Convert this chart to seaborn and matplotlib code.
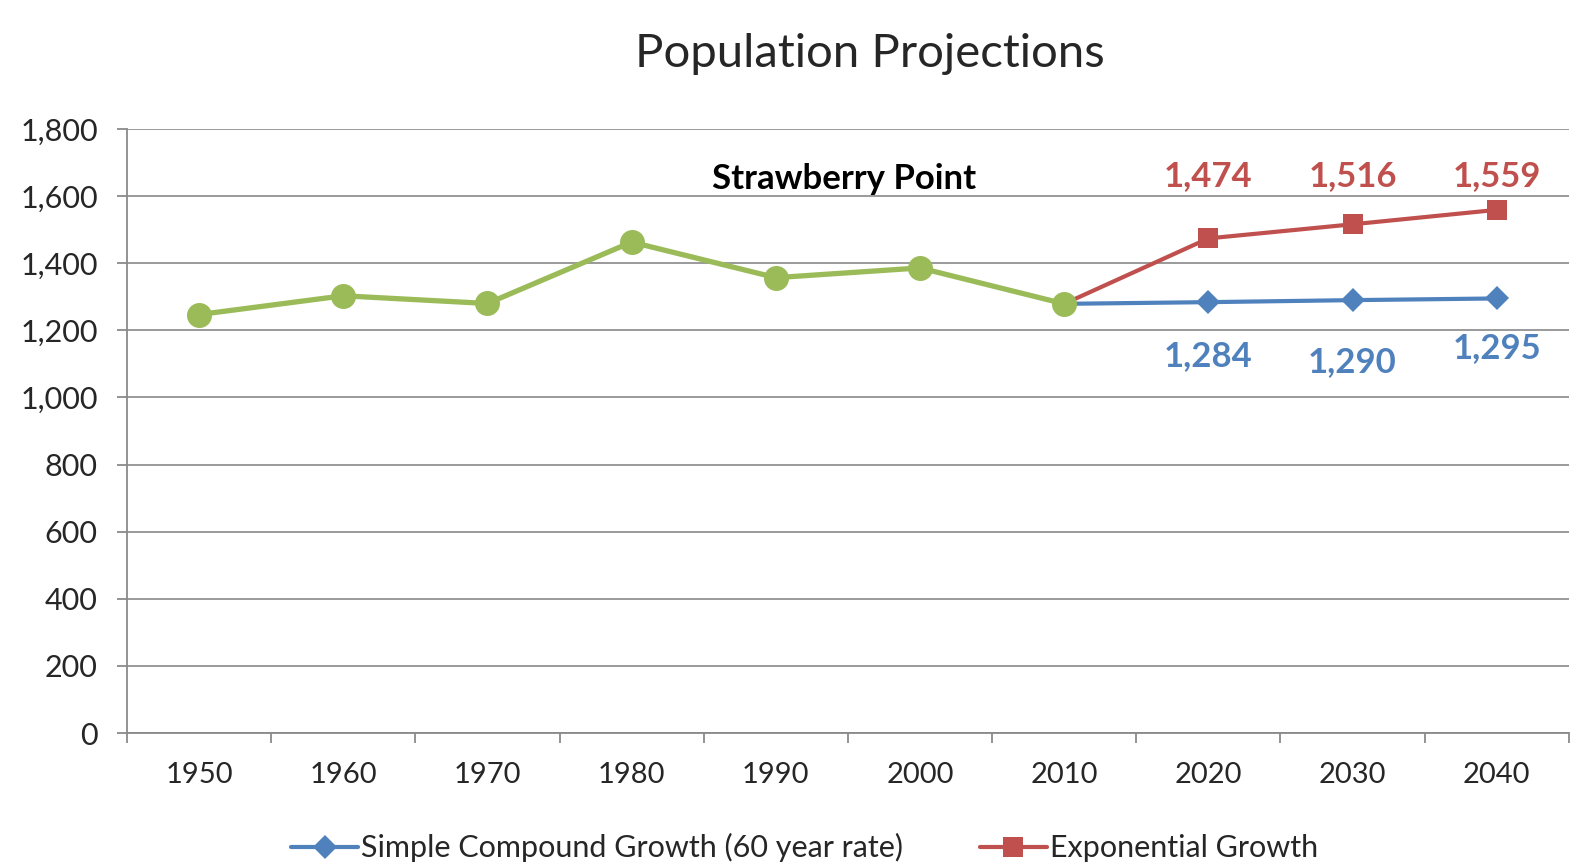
import pandas as pd
import seaborn as sns
import matplotlib.pyplot as plt

# data
hist_years = [1950, 1960, 1970, 1980, 1990, 2000, 2010]
hist_pop = [1247, 1303, 1280, 1463, 1357, 1386, 1279]

proj_years = [2010, 2020, 2030, 2040]
simple_pop = [1279, 1284, 1290, 1295]
expo_pop = [1279, 1474, 1516, 1559]

all_years = [1950, 1960, 1970, 1980, 1990, 2000, 2010, 2020, 2030, 2040]
y_ticks = [0, 200, 400, 600, 800, 1000, 1200, 1400, 1600, 1800]

GREEN = "#9BBB59"
BLUE = "#4F81BD"
RED = "#C0504D"

hist = pd.DataFrame({"Year": hist_years, "Population": hist_pop})
simple = pd.DataFrame({"Year": proj_years, "Population": simple_pop})
expo = pd.DataFrame({"Year": proj_years, "Population": expo_pop})

sns.set_theme(style="white")
plt.rcParams["font.family"] = ["Lato", "DejaVu Sans"]

fig = plt.figure(figsize=(15.81, 8.64), dpi=100)
ax = fig.add_axes([0.0803, 0.1516, 0.912, 0.6991])

# 2010 point is shared with the green series, so skip its projection marker
sns.lineplot(data=simple, x="Year", y="Population", ax=ax, color=BLUE,
             linewidth=3, marker="D", markersize=12, markeredgewidth=0,
             markevery=[1, 2, 3],
             label="Simple Compound Growth (60 year rate)", zorder=3)
sns.lineplot(data=expo, x="Year", y="Population", ax=ax, color=RED,
             linewidth=3, marker="s", markersize=14, markeredgewidth=0,
             markevery=[1, 2, 3],
             label="Exponential Growth", zorder=3)
sns.lineplot(data=hist, x="Year", y="Population", ax=ax, color=GREEN,
             linewidth=3.8, marker="o", markersize=18, markeredgewidth=0,
             legend=False, zorder=4)

# data labels: red ones sit in a row above, blue ones below the lines
for yr, v in zip(proj_years[1:], expo_pop[1:]):
    ax.text(yr, 1660, f"{v:,}", color=RED, fontsize=25, fontweight="bold",
            ha="center", va="center")
blue_label_y = [1123, 1105, 1147]
for yr, v, ly in zip(proj_years[1:], simple_pop[1:], blue_label_y):
    ax.text(yr, ly, f"{v:,}", color=BLUE, fontsize=25, fontweight="bold",
            ha="center", va="center")

ax.text(1994.7, 1650, "Strawberry Point", fontsize=25, fontweight="bold",
        ha="center", va="center", color="black")

ax.set_xlim(1945, 2045)
ax.set_ylim(0, 1800)
ax.set_yticks(y_ticks)
ax.set_yticklabels([f"{t:,}" for t in y_ticks], fontsize=22)
ax.yaxis.grid(True, color="#9a9a9a", linewidth=1.4)
ax.set_axisbelow(True)

# ticks between categories, labels centered on each category
ax.set_xticks([y - 5 for y in all_years] + [2045])
ax.set_xticklabels([])
ax.set_xticks(all_years, minor=True)
ax.set_xticklabels([str(y) for y in all_years], minor=True, fontsize=21)
ax.tick_params(axis="x", which="major", direction="out", length=7,
               width=1.3, color="#8a8a8a", bottom=True)
ax.tick_params(axis="x", which="minor", length=0, pad=21)
ax.tick_params(axis="y", direction="out", length=7, width=1.3,
               color="#8a8a8a", left=True, pad=14)

ax.set_xlabel("")
ax.set_ylabel("")
for side in ["top", "right"]:
    ax.spines[side].set_visible(False)
for side in ["left", "bottom"]:
    ax.spines[side].set_color("#8a8a8a")
    ax.spines[side].set_linewidth(1.3)

ax.legend(loc="center", bbox_to_anchor=(0.47, -0.19), ncol=2, frameon=False,
          fontsize=22, handlelength=2.2, handletextpad=0.1, columnspacing=2.5)

fig.text(0.55, 0.938, "Population Projections", fontsize=34, ha="center",
         va="center")

fig.savefig("out.png", dpi=100)
